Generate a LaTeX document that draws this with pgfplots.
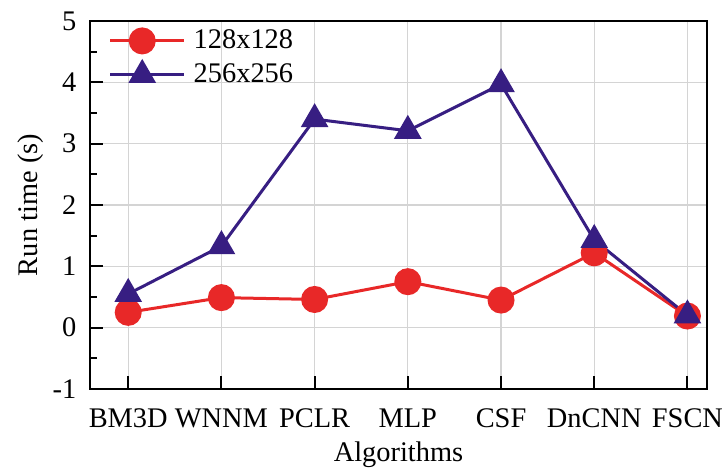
\documentclass[border=0pt]{standalone}
\usepackage{fontspec}
\setmainfont{Liberation Serif}
\usepackage{pgfplots}
\pgfplotsset{compat=1.18}
\definecolor{cred}{RGB}{232,40,40}
\definecolor{cnavy}{RGB}{55,30,130}
\definecolor{cgrid}{RGB}{212,212,212}
\begin{document}
\fontsize{13.8}{16.5}\selectfont
\begin{tikzpicture}
\begin{axis}[
  at={(0,0)}, anchor=south west,
  scale only axis,
  width=308.5pt, height=184pt,
  xmin=-0.41, xmax=6.21,
  ymin=-1, ymax=5,
  xtick={0,1,2,3,4,5,6},
  xticklabels={BM3D,WNNM,PCLR,MLP,CSF,DnCNN,FSCN},
  ytick={-1,0,1,2,3,4,5},
  minor ytick={-0.5,0.5,1.5,2.5,3.5,4.5},
  xtick pos=bottom, ytick pos=left,
  tick align=inside,
  major tick length=6.5pt, minor tick length=3.5pt,
  tick style={black, line width=1pt},
  axis line style={line width=1pt},
  grid=major,
  major grid style={cgrid, line width=0.6pt},
  /pgf/number format/assume math mode=true,
  ticklabel style={font=\fontsize{14.2}{17}\selectfont},
  xticklabel style={yshift=-5pt},
  yticklabel style={xshift=-2pt},
  xlabel={Algorithms},
  ylabel={Run time (s)},
  label style={font=\fontsize{14.2}{17}\selectfont},
  xlabel style={yshift=2.5pt},
  ylabel style={yshift=-5pt},
  legend style={draw=none, fill=none, at={(0.02,1.0)}, anchor=north west,
    font=\fontsize{14.2}{17}\selectfont, row sep=1.5pt},
  legend cell align=left,
  legend image code/.code={
    \path (0pt,0pt) -- (37pt,0pt);
    \draw[#1] (0pt,0pt) -- (32pt,0pt);
    \draw[#1, only marks] plot coordinates {(16pt,0pt)};
  },
  legend style={nodes={inner xsep=4pt}},
]
\addplot[cred, line width=1.5pt, mark=*, mark size=6pt, mark options={solid, fill=cred, draw=cred}]
  coordinates {(0,0.25) (1,0.49) (2,0.46) (3,0.75) (4,0.45) (5,1.22) (6,0.19)};
\addlegendentry{128x128}
\addplot[cnavy, line width=1.5pt, mark=triangle*, mark size=6.5pt, mark options={solid, fill=cnavy, draw=cnavy}]
  coordinates {(0,0.55) (1,1.33) (2,3.40) (3,3.21) (4,3.97) (5,1.43) (6,0.20)};
\addlegendentry{256x256}
\end{axis}
\pgfresetboundingbox
\path (-45pt,-41pt) rectangle (316pt,194.5pt);
\end{tikzpicture}
\end{document}
